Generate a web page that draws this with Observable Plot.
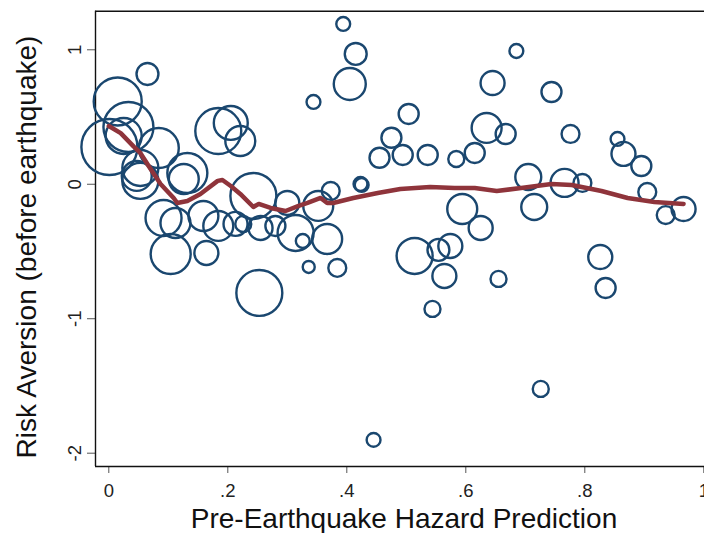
<!DOCTYPE html>
<html><head><meta charset="utf-8">
<script src="https://cdn.jsdelivr.net/npm/d3@7"></script>
<script src="https://cdn.jsdelivr.net/npm/@observablehq/plot@0.6"></script>
<style>html,body{margin:0;padding:0;background:#fff} svg{display:block}</style>
</head><body><div id="chart"></div>
<script>
// Scatter: pre-earthquake hazard prediction vs. risk aversion, bubble size = weight
const hazard = [0.065,0.015,0.033,0.001,0.025,0.084,0.053,0.047,0.132,0.184,0.205,0.221,0.053,0.126,0.092,0.112,0.159,0.184,0.104,0.164,0.213,0.226,0.255,0.280,0.243,0.300,0.314,0.326,0.352,0.367,0.373,0.423,0.336,0.384,0.253,0.344,0.394,0.415,0.405,0.504,0.475,0.455,0.494,0.536,0.584,0.615,0.635,0.667,0.425,0.594,0.625,0.514,0.554,0.574,0.564,0.655,0.544,0.445,0.645,0.685,0.744,0.776,0.855,0.865,0.895,0.705,0.766,0.796,0.905,0.966,0.936,0.715,0.826,0.835,0.726];
const riskAversion = [0.820,0.616,0.426,0.277,0.359,0.270,0.121,0.062,0.084,0.396,0.456,0.322,0.025,0.039,-0.251,-0.288,-0.236,-0.310,-0.519,-0.511,-0.295,-0.295,-0.325,-0.310,-0.087,-0.139,-0.362,-0.422,-0.161,-0.407,-0.050,0.002,-0.615,-0.622,-0.808,0.612,1.192,0.969,0.746,0.523,0.346,0.197,0.218,0.218,0.188,0.233,0.419,0.374,-0.005,-0.184,-0.325,-0.533,-0.488,-0.459,-0.682,-0.704,-0.927,-1.901,0.753,0.991,0.686,0.374,0.337,0.226,0.136,0.054,0.010,0.010,-0.057,-0.184,-0.229,-0.169,-0.541,-0.771,-1.522];
const weight = [30,144,156,196,81,100,81,56,100,132,72,56,81,56,81,56,56,56,100,36,36,16,36,25,132,36,81,12,56,56,20,12,9,20,132,12,12,30,64,25,25,25,25,25,16,25,56,25,12,56,36,81,30,36,36,16,16,12,36,12,25,20,12,36,25,42,49,20,20,36,20,42,36,25,16];

// Local (lowess) fit line
const fitX = [0.000,0.020,0.042,0.053,0.067,0.087,0.109,0.115,0.132,0.154,0.183,0.191,0.205,0.221,0.243,0.252,0.272,0.297,0.319,0.334,0.356,0.367,0.377,0.411,0.452,0.490,0.540,0.581,0.615,0.652,0.693,0.744,0.778,0.828,0.872,0.917,0.966];
const fitY = [0.433,0.380,0.280,0.233,0.136,0.002,-0.102,-0.139,-0.124,-0.072,0.025,0.032,-0.013,-0.072,-0.169,-0.146,-0.176,-0.199,-0.161,-0.139,-0.102,-0.139,-0.139,-0.102,-0.065,-0.035,-0.020,-0.028,-0.028,-0.050,-0.028,0.002,-0.005,-0.050,-0.102,-0.132,-0.146];

const xTicks = [0, 0.2, 0.4, 0.6, 0.8, 1];
const yTicks = [-2, -1, 0, 1];
const xTitle = "Pre-Earthquake Hazard Prediction";
const yTitle = "Risk Aversion (before earthquake)";

const points = hazard.map((h, i) => ({x: h, y: riskAversion[i], w: weight[i]}));
const fit = fitX.map((v, i) => ({x: v, y: fitY[i]}));

const xDomain = [-0.02235, 1.00118];
const yDomain = [-2.099, 1.287];
const fmtX = d => d === 0 ? "0" : d === 1 ? "1" : String(d).replace(/^0\./, ".");

const chart = Plot.plot({
  width: 704, height: 533,
  marginLeft: 95, marginRight: 0, marginTop: 10.7, marginBottom: 67,
  style: {fontFamily: "'Liberation Sans', Arial, sans-serif", fontSize: "18.5px", background: "#fff", color: "#222"},
  x: {domain: xDomain},
  y: {domain: yDomain},
  r: {type: "sqrt", domain: [0, 100], range: [0, 20]},
  marks: [
    Plot.axisX(xTicks, {tickSize: 7, tickPadding: 10, tickFormat: fmtX, label: null, stroke: "#555", fill: "#222"}),
    Plot.axisY(yTicks, {tickSize: 8, tickPadding: 7, tickRotate: -90, tickFormat: d => String(d), label: null, stroke: "#555", fill: "#222"}),
    Plot.ruleX([xDomain[0]], {stroke: "#111", strokeWidth: 1.4}),
    Plot.ruleY([yDomain[0], yDomain[1]], {stroke: "#111", strokeWidth: 1.4}),
    Plot.dot(points, {x: "x", y: "y", r: "w", stroke: "#1a476f", strokeWidth: 2.4, fill: "none"}),
    Plot.line(fit, {x: "x", y: "y", stroke: "#8f343b", strokeWidth: 4.5, strokeLinejoin: "round", strokeLinecap: "round"})
  ]
});

const svg = d3.select(chart);
svg.append("text")
  .attr("x", 404).attr("y", 518).attr("dy", "0.35em")
  .attr("text-anchor", "middle")
  .attr("font-size", 28).attr("fill", "#111")
  .attr("font-family", "'Liberation Sans', Arial, sans-serif")
  .text(xTitle);
svg.append("text")
  .attr("transform", "translate(26,247) rotate(-90)").attr("dy", "0.35em")
  .attr("text-anchor", "middle")
  .attr("font-size", 28).attr("fill", "#111")
  .attr("font-family", "'Liberation Sans', Arial, sans-serif")
  .text(yTitle);

document.getElementById("chart").appendChild(chart);
</script>
</body></html>
